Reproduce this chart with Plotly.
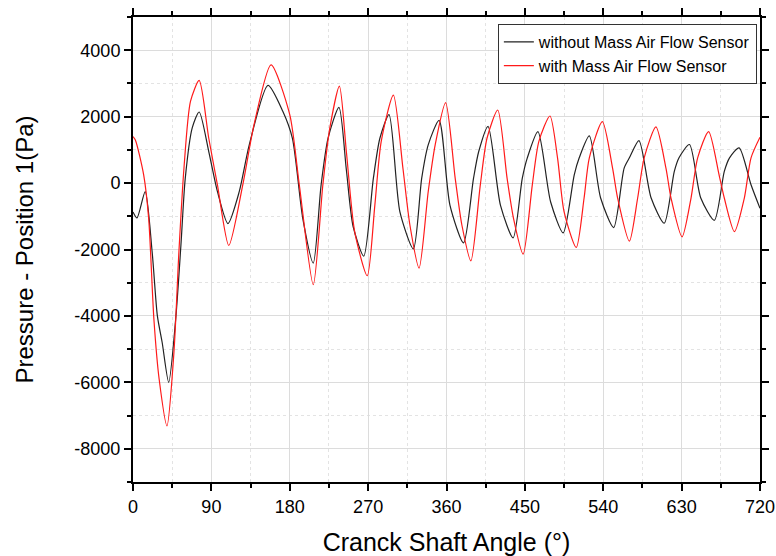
import plotly.graph_objects as go

# curva sem sensor de fluxo de ar (preta)
ang_sem = [0, 4.6, 14, 22, 28, 33.5, 41, 49, 55, 60, 68, 76, 87, 97, 109, 122, 133.5, 155,
           172, 183, 195, 207, 216, 224, 236.5, 245, 252.7, 265, 276, 283.5, 294, 306.5, 322,
           331.5, 339, 351.5, 364, 379.6, 391, 397, 407.7, 422, 436.5, 447, 452.7, 465, 479.6,
           494, 506.7, 512.4, 524, 537, 552, 564, 570, 581, 595, 610, 621.6, 627, 639, 652,
           667.6, 679, 685, 696, 709.7, 720]
p_sem = [-870, -1050, -260, -2080, -4000, -4800, -6000, -4100, -1880, 140, 1660, 2140, 950,
         -260, -1220, -260, 1150, 2940, 2160, 1350, -1070, -2410, -60, 1350, 2280, 400, -1300,
         -2200, 140, 1350, 2060, -870, -1980, 140, 1150, 1890, -670, -1800, 140, 950, 1710,
         -670, -1650, 140, 750, 1550, -570, -1500, 250, 760, 1420, -450, -1340, 450, 760, 1280,
         -450, -1210, 350, 760, 1160, -450, -1120, 350, 760, 1060, -50, -760]

# curva com sensor de fluxo de ar (vermelha)
ang_com = [0, 2.7, 12.3, 18, 24, 30, 39, 47, 52.7, 58.5, 66, 76, 87, 97, 110, 126, 139, 158.5,
           180, 191, 207, 218, 226, 237, 245, 254.6, 269, 277.7, 285, 299, 310, 318, 328.5,
           339, 347, 359, 370, 377.7, 388, 398.8, 406.5, 418.8, 429.6, 437, 448, 458.5, 466,
           478.8, 487.5, 495, 509, 518, 524, 539, 550.7, 556.5, 570, 579.5, 587, 600.5, 612,
           617.8, 630.5, 640.8, 648.4, 661, 673, 679, 690.6, 702, 709.7, 720]
p_com = [1400, 1300, 240, -1070, -4100, -5900, -7310, -5100, -2080, 440, 2460, 3090, 1350,
         -60, -1880, -60, 1760, 3560, 2060, -60, -3060, -60, 1660, 2920, 950, -1470, -2790,
         -670, 1250, 2650, 440, -1270, -2560, -260, 1150, 2420, 140, -1270, -2340, -60, 1350,
         2200, 140, -1070, -2140, -60, 1250, 2020, 760, -860, -1940, -450, 760, 1850, 450,
         -450, -1750, -450, 760, 1690, 450, -450, -1620, -450, 760, 1550, 250, -450, -1460,
         -450, 760, 1380]

# marcas do eixo y (com hifen comum, como no original)
y_ticks = [-8000, -6000, -4000, -2000, 0, 2000, 4000]
y_labels = ["-8000", "-6000", "-4000", "-2000", "0", "2000", "4000"]

fonte = "Liberation Sans, Arial, sans-serif"

fig = go.Figure()
fig.add_trace(go.Scatter(x=ang_sem, y=p_sem, mode="lines", name="without Mass Air Flow Sensor",
                         line=dict(color="#222222", width=1.2, shape="spline", smoothing=0.7)))
fig.add_trace(go.Scatter(x=ang_com, y=p_com, mode="lines", name="with Mass Air Flow Sensor",
                         line=dict(color="#ff1a1a", width=1.2, shape="spline", smoothing=0.7)))

eixo = dict(showline=True, linecolor="black", linewidth=2, mirror="allticks",
            ticks="outside", ticklen=7, tickwidth=2, tickcolor="black", automargin=False,
            showgrid=True, gridcolor="#dcdcdc", gridwidth=1, zeroline=False,
            tickfont=dict(family=fonte, size=18, color="black"))

fig.update_xaxes(**eixo, range=[0, 720], tick0=0, dtick=90,
                 minor=dict(dtick=45, ticks="outside", ticklen=4, tickcolor="black",
                            showgrid=True, gridcolor="#e3e3e3", griddash="dot"),
                 title=dict(text="Cranck Shaft Angle (°)", font=dict(family=fonte, size=25, color="black"),
                            standoff=20))
fig.update_yaxes(**eixo, range=[-9000, 5000], tickmode="array", tickvals=y_ticks, ticktext=y_labels,
                 minor=dict(dtick=1000, tick0=0, ticks="outside", ticklen=4, tickcolor="black",
                            showgrid=True, gridcolor="#e3e3e3", griddash="dot"),
                 title=dict(text="Pressure - Position 1(Pa)", font=dict(family=fonte, size=24, color="black"),
                            standoff=34))

fig.update_layout(width=776, height=556, margin=dict(l=133, r=16, t=17, b=74),
                  plot_bgcolor="white", paper_bgcolor="white",
                  legend=dict(x=0.995, y=0.985, xanchor="right", yanchor="top",
                              bgcolor="white", bordercolor="#333333", borderwidth=1,
                              font=dict(family=fonte, size=16, color="black"),
                              tracegroupgap=0, itemwidth=30))

# tira a margem padrão da página para o gráfico ficar no canto
fig.write_html("out.html", config={"displayModeBar": False},
               post_script="document.body.style.margin='0px';")
